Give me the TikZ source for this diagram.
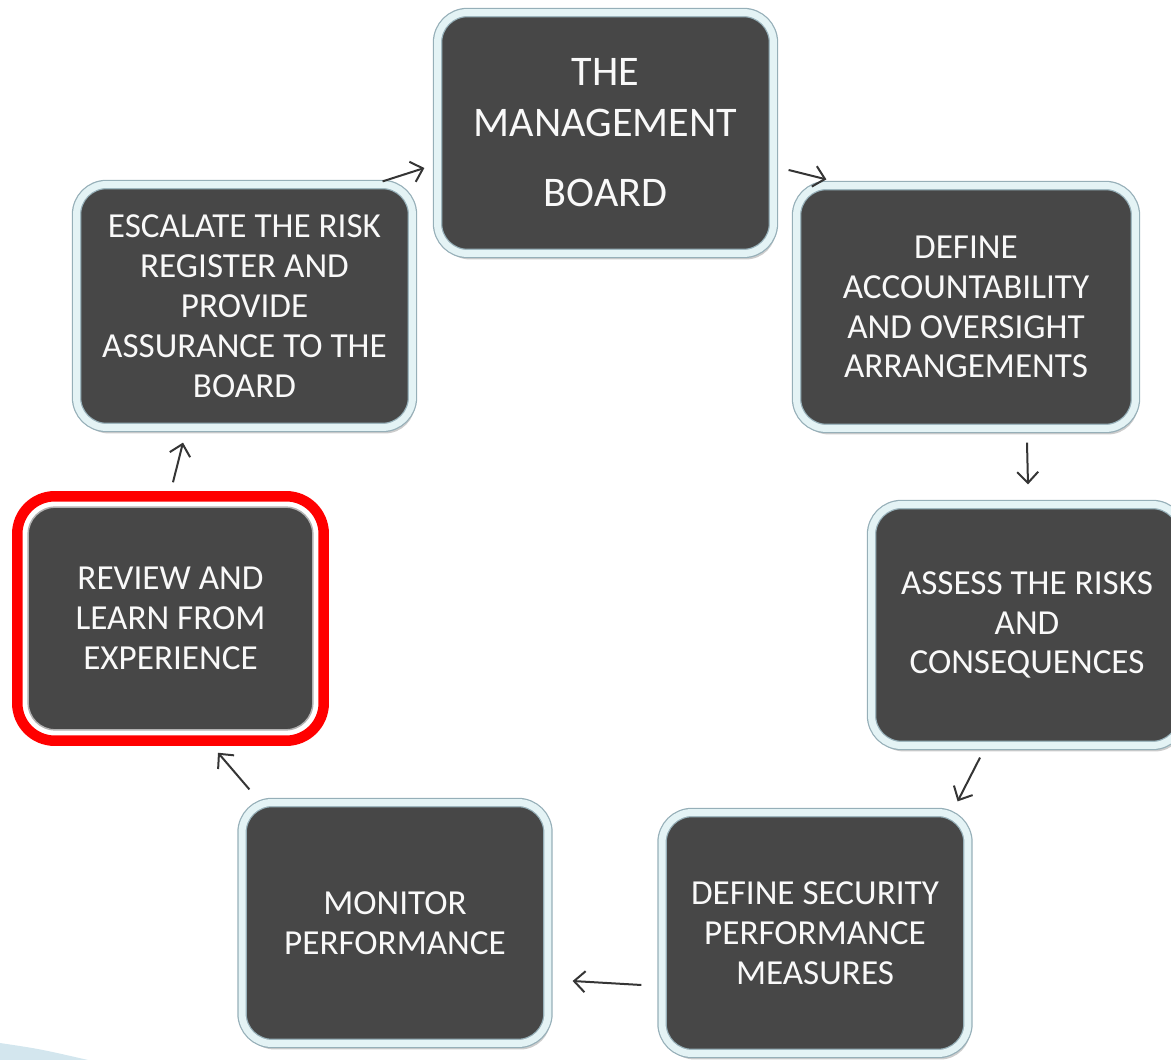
\documentclass[tikz,border=0pt]{standalone}
\usepackage{fontspec}
\setmainfont{Carlito}
\usetikzlibrary{shapes, arrows.meta, shadows}

\definecolor{boxgrey}{HTML}{474747}
\definecolor{framegrey}{HTML}{96AFB8}
\definecolor{framelight}{HTML}{E4F3F5}
\definecolor{arrowgrey}{HTML}{353535}
\definecolor{cornerblue}{HTML}{D3E6EE}

\begin{document}
\begin{tikzpicture}[
      x=0.02cm, y=-0.02cm,
      font=\fontsize{20}{22.7}\selectfont,
      box/.style={rectangle, rounded corners=0.6cm, fill=boxgrey, text=white!95!gray, text centered, align=center,
        draw=framegrey, line width=0.025cm, double=framelight, double distance=0.14cm,
        drop shadow={shadow xshift=0.05cm, shadow yshift=-0.12cm, opacity=0.4},
        minimum width=6.12cm, minimum height=4.82cm},
      redbox/.style={rectangle, rounded corners=0.55cm, fill=boxgrey, text=white!95!gray, text centered, align=center,
        draw=gray!60, line width=0.03cm, minimum width=5.7cm, minimum height=4.46cm},
      redframe/.style={draw=red, line width=0.21cm, rounded corners=0.75cm},
      arrow/.style={line width=0.04cm, draw=arrowgrey, -{Straight Barb[length=0.22cm, width=0.42cm]}}
    ]
      \useasboundingbox (0,0) rectangle (1171,1060);
      \fill [cornerblue] (0,1043) .. controls (40,1049) .. (88,1060) -- (0,1060) -- cycle;

      \node (board) [box, minimum width=6.72cm, font=\fontsize{24}{29}\selectfont] at (605.5,133) {THE\\MANAGEMENT\\[0.38cm]BOARD};
      \node (define) [box, minimum width=6.78cm, minimum height=4.86cm] at (966,307) {DEFINE\\ACCOUNTABILITY\\AND OVERSIGHT\\ARRANGEMENTS};
      \node (assess) [box, minimum width=6.22cm] at (1027,625) {ASSESS THE RISKS\\AND\\CONSEQUENCES};
      \node (measures) [box] at (815,933) {DEFINE SECURITY\\PERFORMANCE\\MEASURES};
      \node (monitor) [box] at (395,923) {MONITOR\\PERFORMANCE};
      \node (review) [redbox] at (170.5,618.5) {REVIEW AND\\LEARN FROM\\EXPERIENCE};
      \node (escalate) [box, minimum width=6.72cm, minimum height=4.86cm] at (244.5,306) {ESCALATE THE RISK\\REGISTER AND\\PROVIDE\\ASSURANCE TO THE\\BOARD};

      \draw [redframe] ([shift={(-10,-10)}]review.north west) rectangle ([shift={(10,10)}]review.south east);

      \draw [arrow] ([shift={(-30.5,-2.5)}]escalate.north east) -- ([shift={(-12.5,35)}]board.west);
      \draw [arrow] ([shift={(14.5,37)}]board.east) -- ([shift={(30.5,-5.5)}]define.north west);
      \draw [arrow] ([shift={(61,13.5)}]define.south) -- ([shift={(1,-19.5)}]assess.north);
      \draw [arrow] ([shift={(-47,11.5)}]assess.south) -- ([shift={(-11,-10.5)}]measures.north east);
      \draw [arrow] ([shift={(-20,52)}]measures.west) -- ([shift={(24,58)}]monitor.east);
      \draw [arrow] ([shift={(8,-12.5)}]monitor.north west) -- ([shift={(47.5,22)}]review.south);
      \draw [arrow] ([shift={(2.5,-24)}]review.north) -- ([shift={(-61.5,14.5)}]escalate.south);
    \end{tikzpicture}
\end{document}
